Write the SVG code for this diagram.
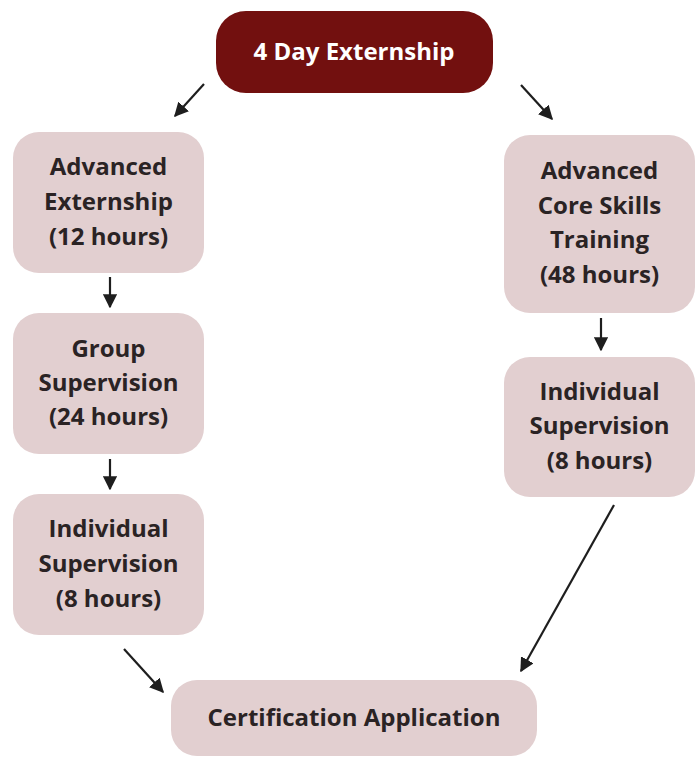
<svg xmlns="http://www.w3.org/2000/svg" width="700" height="758" viewBox="0 0 700 758">
<style>
.box{fill:#e2cfd0}
.top{fill:#72100f}
text{font-family:"Open Sans","Noto Sans","Liberation Sans",sans-serif;font-weight:bold;font-size:24px;text-anchor:middle;fill:#2a2324}
.w{fill:#ffffff}
.c{stroke:#1e1e1e;stroke-width:2.2;fill:none;marker-end:url(#ah)}
</style>
<defs>
<marker id="ah" viewBox="0 0 10 10" refX="9" refY="5" markerWidth="6.5" markerHeight="6.5" markerUnits="strokeWidth" orient="auto">
<path d="M0,0 L10,5 L0,10 z" fill="#1e1e1e"/>
</marker>
</defs>
<g id="n-start"><rect class="top" x="216" y="11" width="277" height="82" rx="30"/><text class="w" x="354" y="60">4 Day Externship</text></g>
<g id="n-adv-ext"><rect class="box" x="13" y="132" width="191" height="141" rx="26"/><text x="108.5" y="175">Advanced</text><text x="108.5" y="210">Externship</text><text x="108.5" y="245">(12 hours)</text></g>
<g id="n-group"><rect class="box" x="13" y="313" width="191" height="141" rx="26"/><text x="108.5" y="357">Group</text><text x="108.5" y="391">Supervision</text><text x="108.5" y="425">(24 hours)</text></g>
<g id="n-ind-left"><rect class="box" x="13" y="494" width="191" height="141" rx="26"/><text x="108.5" y="537">Individual</text><text x="108.5" y="572">Supervision</text><text x="108.5" y="607">(8 hours)</text></g>
<g id="n-core"><rect class="box" x="504" y="135" width="191" height="178" rx="26"/><text x="599.5" y="179">Advanced</text><text x="599.5" y="214">Core Skills</text><text x="599.5" y="248">Training</text><text x="599.5" y="283">(48 hours)</text></g>
<g id="n-ind-right"><rect class="box" x="504" y="357" width="191" height="140" rx="26"/><text x="599.5" y="400">Individual</text><text x="599.5" y="434">Supervision</text><text x="599.5" y="469">(8 hours)</text></g>
<g id="n-cert"><rect class="box" x="171" y="680" width="366" height="76" rx="26"/><text x="354" y="726">Certification Application</text></g>
<g id="connectors">
<line class="c" x1="204" y1="84" x2="175" y2="116"/>
<line class="c" x1="521" y1="85" x2="552" y2="119"/>
<line class="c" x1="110" y1="277" x2="110" y2="307"/>
<line class="c" x1="110" y1="459" x2="110" y2="489"/>
<line class="c" x1="601" y1="318" x2="601" y2="350"/>
<line class="c" x1="124" y1="649" x2="163" y2="692"/>
<line class="c" x1="614" y1="505" x2="521" y2="671"/>
</g>
</svg>
